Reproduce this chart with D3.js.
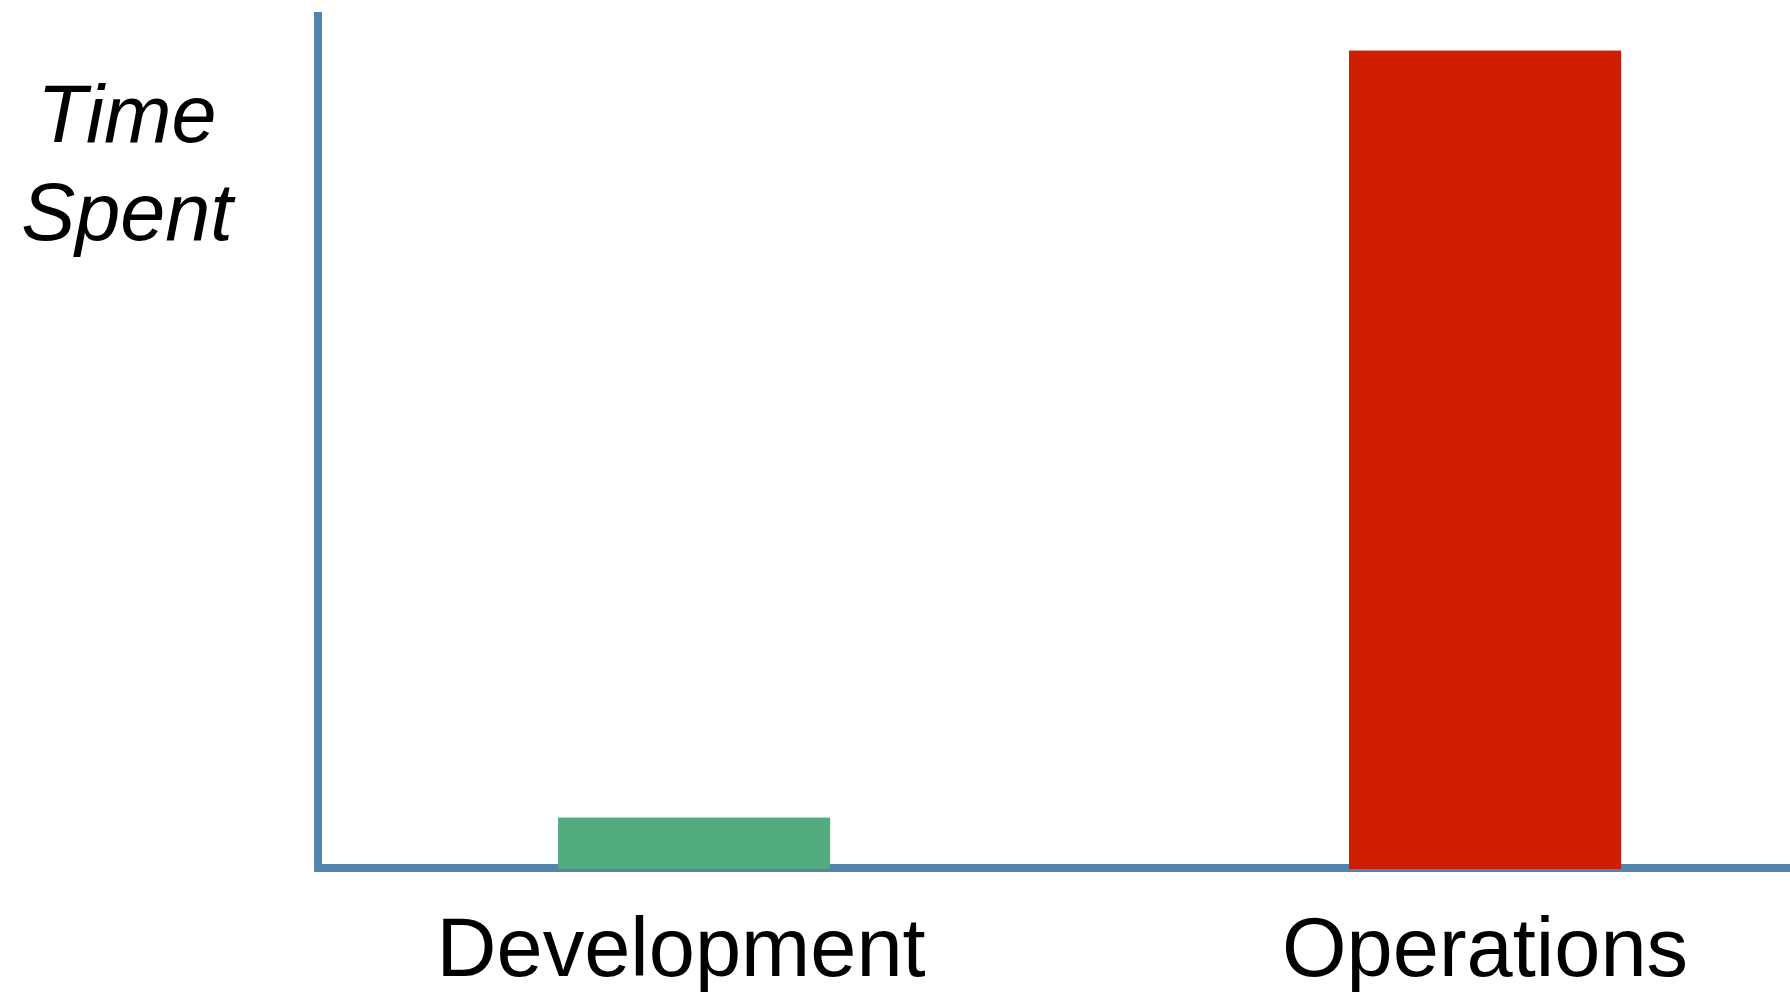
<!DOCTYPE html>
<html lang="en">

<head>
    <meta charset="UTF-8">
    <title>Time Spent</title>
    <style>
        body {
            margin: 0;
            background: #ffffff;
        }
    </style>
</head>

<body>
    <div id="chart"></div>
</body>
<script src="https://d3js.org/d3.v7.min.js"></script>
<script>
    // chart data
    var categories = ["Development", "Operations"];
    var timeSpent = [6, 95.5];
    var barColors = ["#53ac80", "#ce1d00"];
    var yLabel = ["Time", "Spent"];

    var W = 1790, H = 992;
    var axisColor = "#5384ad";
    var fontFam = "Liberation Sans, Arial, sans-serif";

    var svg = d3.select("#chart").append("svg")
        .attr("width", W)
        .attr("height", H);

    // scales
    var x = d3.scaleBand()
        .domain(categories)
        .range([318, 1790])
        .paddingInner(0.656)
        .paddingOuter(0.2585)
        .align(0.587);

    var y = d3.scaleLinear()
        .domain([0, 100])
        .range([869, 12]);

    // axis lines
    svg.append("line")
        .attr("x1", 318).attr("x2", 318)
        .attr("y1", y(100)).attr("y2", 872)
        .style("stroke", axisColor)
        .style("stroke-width", 8);

    svg.append("line")
        .attr("x1", 314).attr("x2", W)
        .attr("y1", 868).attr("y2", 868)
        .style("stroke", axisColor)
        .style("stroke-width", 8);

    // bars
    svg.selectAll("rect.bar")
        .data(timeSpent)
        .enter().append("rect")
        .attr("class", "bar")
        .attr("x", function (d, i) { return x(categories[i]); })
        .attr("y", function (d) { return y(d); })
        .attr("width", x.bandwidth())
        .attr("height", function (d) { return y(0) - y(d); })
        .style("fill", function (d, i) { return barColors[i]; });

    // category labels
    var xAxis = svg.append("g")
        .attr("transform", "translate(0," + y(0) + ")")
        .call(d3.axisBottom(x).tickSize(0).tickSizeOuter(0));
    xAxis.select(".domain").remove();
    xAxis.selectAll("text")
        .attr("y", 107)
        .attr("dy", 0)
        // the first label sits a bit left of its bar in the original
        .attr("dx", function (d, i) { return i == 0 ? -13 : 0; })
        .style("font-family", fontFam)
        .style("font-size", "83px")
        .style("fill", "#000");

    // y label
    svg.append("text")
        .attr("x", 127)
        .attr("y", 142)
        .style("font-family", fontFam)
        .style("font-style", "italic")
        .style("font-size", "81px")
        .style("text-anchor", "middle")
        .selectAll("tspan")
        .data(yLabel)
        .enter().append("tspan")
        .attr("x", 127)
        .attr("dy", function (d, i) { return i == 0 ? 0 : 98; })
        .text(function (d) { return d; });
</script>

</html>
